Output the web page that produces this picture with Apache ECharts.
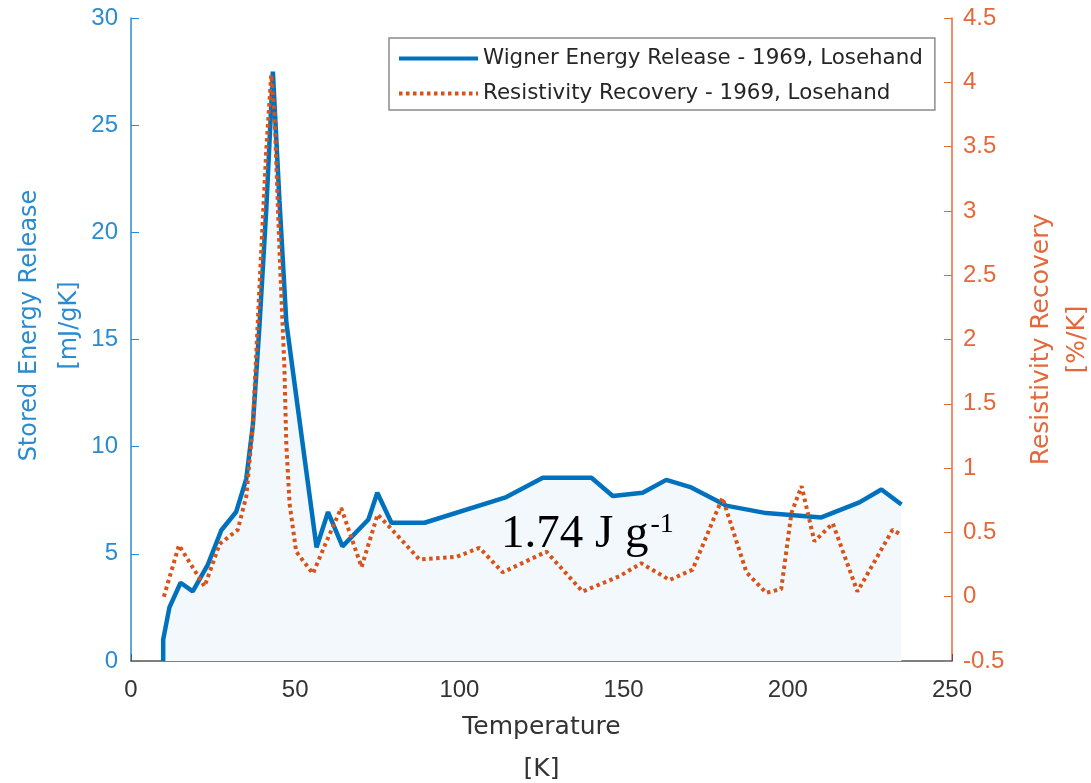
<!DOCTYPE html>
<html><head><meta charset="utf-8">
<script src="https://cdn.jsdelivr.net/npm/echarts@6/dist/echarts.min.js"></script>
<style>html,body{margin:0;padding:0;background:#fff}#c{width:1091px;height:783px}</style>
</head><body><div id="c"></div>
<script>
// Wigner energy release (left axis, mJ/gK)
const energyT = [9.8, 9.8, 11.7, 15.1, 18.8, 23.4, 27.5, 32, 35.1, 37.1, 39.1, 41.2, 43.2, 45.2, 47.3, 56.5, 60, 64.4, 72.3, 75, 79.3, 89.4, 114.3, 125.4, 140.2, 146.7, 155.8, 163, 170.6, 181.2, 193.4, 210.2, 221.8, 228.5, 234.6];
const energyV = [0, 1.0, 2.5, 3.65, 3.25, 4.5, 6.1, 6.95, 8.5, 11, 15.6, 21.1, 27.5, 21.5, 15.8, 5.3, 6.95, 5.35, 6.6, 7.85, 6.45, 6.45, 7.65, 8.55, 8.55, 7.7, 7.85, 8.45, 8.1, 7.25, 6.9, 6.7, 7.4, 8.0, 7.3];
// Resistivity recovery (right axis, %/K)
const resistT = [10, 14.6, 22.4, 27, 32.5, 35.1, 37.1, 39.1, 41.2, 42.7, 43.7, 45.2, 46.7, 47.3, 48.3, 50.3, 55.4, 59.7, 64, 70.2, 75.1, 78.8, 87.8, 99.1, 106.1, 113.2, 126.5, 137.5, 148.8, 155.4, 164, 171, 180.1, 187.4, 193.4, 198, 201.1, 204.2, 208.1, 213.7, 221.2, 231.9, 234.6];
const resistV = [0, 0.4, 0.08, 0.41, 0.52, 0.78, 1.33, 2.4, 3.48, 4.06, 3.75, 2.7, 1.79, 1.18, 0.72, 0.35, 0.18, 0.44, 0.69, 0.23, 0.64, 0.54, 0.29, 0.31, 0.38, 0.19, 0.35, 0.04, 0.16, 0.26, 0.13, 0.21, 0.77, 0.19, 0.03, 0.06, 0.65, 0.86, 0.43, 0.57, 0.04, 0.52, 0.48];
const seriesNames = ['Wigner Energy Release - 1969, Losehand', 'Resistivity Recovery - 1969, Losehand'];
const xTicks = {min: 0, max: 250, interval: 50};
const leftTicks = {min: 0, max: 30, interval: 5};
const rightTicks = {min: -0.5, max: 4.5, interval: 0.5};
const annotation = {main: '1.74 J g', sup: '-1'};

const BLUE = '#0072BD', ORANGE = '#D95319';
const BLUE_TXT = '#2a8bd0', ORANGE_TXT = '#e4683a';
const FONT = '"Liberation Sans", Arial, sans-serif';
const WFONT = '"DejaVu Sans", sans-serif';

const chart = echarts.init(document.getElementById('c'));
chart.setOption({
  animation: false,
  grid: {left: 131, right: 139, top: 18, bottom: 122, outerBoundsMode: 'none', containLabel: false},
  legend: {
    orient: 'vertical', left: 389, top: 38,
    padding: [10, 12, 6, 8], itemGap: 14, itemWidth: 79, itemHeight: 14,
    borderColor: '#8c8c8c', borderWidth: 1.5, backgroundColor: '#fff',
    itemStyle: {opacity: 0},
    lineStyle: {width: 4},
    textStyle: {fontFamily: WFONT, fontSize: 21.4, color: '#262626'},
    data: seriesNames
  },
  xAxis: {
    type: 'value', min: xTicks.min, max: xTicks.max, interval: xTicks.interval,
    name: 'Temperature\n[K]', nameLocation: 'middle', nameGap: 44,
    nameTextStyle: {fontFamily: WFONT, fontSize: 25, color: '#333', lineHeight: 42},
    axisLine: {lineStyle: {color: '#555', width: 1.5}},
    axisTick: {inside: true, length: 7, lineStyle: {color: '#555'}},
    axisLabel: {fontFamily: FONT, fontSize: 24, color: '#333', margin: 17},
    splitLine: {show: false}
  },
  yAxis: [{
    type: 'value', min: leftTicks.min, max: leftTicks.max, interval: leftTicks.interval, position: 'left',
    name: 'Stored Energy Release\n[mJ/gK]', nameLocation: 'middle', nameGap: 41, nameRotate: 90, nameMoveOverlap: false,
    nameTextStyle: {fontFamily: WFONT, fontSize: 24, color: BLUE_TXT, lineHeight: 40, padding: [0, 0, 0, 28]},
    axisLine: {show: true, lineStyle: {color: BLUE_TXT, width: 1.5}},
    axisTick: {show: true, inside: true, length: 8, lineStyle: {color: BLUE_TXT}},
    axisLabel: {fontFamily: FONT, fontSize: 24, color: BLUE_TXT, margin: 13},
    splitLine: {show: false}
  }, {
    type: 'value', min: rightTicks.min, max: rightTicks.max, interval: rightTicks.interval, position: 'right',
    name: 'Resistivity Recovery\n[%/K]', nameLocation: 'middle', nameGap: 71, nameRotate: 90,
    nameTextStyle: {fontFamily: WFONT, fontSize: 25, color: ORANGE_TXT, lineHeight: 36},
    axisLine: {show: true, lineStyle: {color: ORANGE_TXT, width: 1.5}},
    axisTick: {show: true, inside: true, length: 8, lineStyle: {color: ORANGE_TXT}},
    axisLabel: {fontFamily: FONT, fontSize: 24, color: ORANGE_TXT, margin: 11},
    splitLine: {show: false}
  }],
  series: [{
    name: seriesNames[0], type: 'line', yAxisIndex: 0, symbol: 'none', z: 3,
    data: energyT.map((t, i) => [t, energyV[i]]),
    lineStyle: {color: BLUE, width: 4.5},
    itemStyle: {color: BLUE},
    areaStyle: {color: '#f3f8fd', opacity: 1, origin: 'start'}
  }, {
    name: seriesNames[1], type: 'line', yAxisIndex: 1, symbol: 'none', z: 4,
    data: resistT.map((t, i) => [t, resistV[i]]),
    lineStyle: {color: ORANGE, width: 4, type: [3.5, 3.5]},
    itemStyle: {color: ORANGE}
  }],
  graphic: [{
    type: 'text', left: 501, top: 511, z: 10,
    style: {
      text: '{a|' + annotation.main + '}{b|' + annotation.sup + '}',
      rich: {
        a: {fontFamily: '"Liberation Serif", "Times New Roman", serif', fontSize: 47, fill: '#000'},
        b: {fontFamily: '"Liberation Serif", "Times New Roman", serif', fontSize: 28, fill: '#000', verticalAlign: 'top', padding: [0, 0, 18, 2]}
      }
    }
  }]
});
</script></body></html>
